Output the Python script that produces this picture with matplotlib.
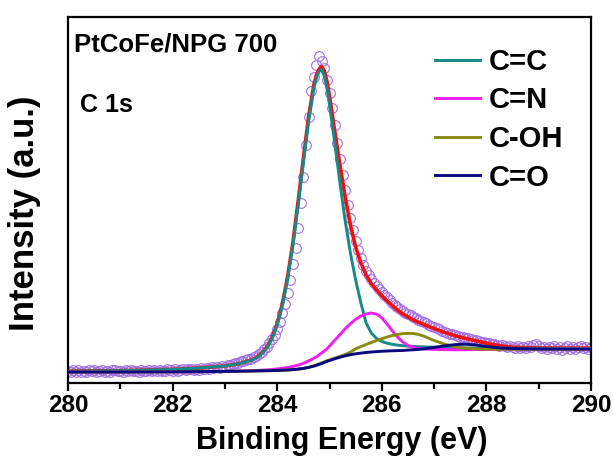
import numpy as np
import matplotlib
matplotlib.use('Agg')
import matplotlib.pyplot as plt
from matplotlib.ticker import MultipleLocator

plt.rcParams['font.family'] = ['Liberation Sans', 'DejaVu Sans']
plt.rcParams['font.weight'] = 'bold'

# measured points (open circles), 280.00 .. 290.00 eV every 0.05 eV
be_raw = np.linspace(280.0, 290.0, 201)
counts_raw = [
    12.5, 11.0, 12.8, 11.5, 13.0, 11.2, 12.2, 10.8, 12.6, 11.6,
    12.9, 11.3, 12.0, 13.1, 11.4, 12.4, 11.0, 12.7, 13.2, 11.8,
    12.3, 11.1, 12.9, 12.0, 13.3, 11.6, 12.5, 11.4, 13.0, 12.2,
    11.7, 13.4, 12.1, 12.8, 11.6, 13.5, 12.4, 11.9, 13.6, 12.6,
    12.2, 13.8, 12.5, 13.1, 14.0, 12.6, 13.7, 14.2, 13.0, 14.4,
    13.5, 14.8, 14.0, 15.1, 14.3, 15.6, 15.0, 16.2, 15.4, 16.8,
    16.5, 17.6, 17.9, 18.8, 19.6, 20.5, 21.6, 22.0, 23.2, 24.0,
    24.5, 25.8, 27.5, 28.6, 31.0, 33.8, 36.5, 40.0, 44.5, 48.5,
    54.0, 61.0, 70.0, 79.0, 90.0, 103.0, 119.0, 135.0, 155.0, 180.0,
    206.0, 238.0, 266.0, 292.0, 306.0, 318.0, 327.0, 322.0, 315.0, 303.0,
    290.0, 275.0, 258.0, 240.0, 224.0, 208.0, 193.0, 178.0, 165.0, 153.0,
    142.0, 133.0, 125.0, 118.0, 112.0, 108.0, 104.0, 100.0, 97.0, 94.0,
    91.0, 88.0, 86.0, 83.0, 80.0, 78.0, 76.0, 74.0, 72.0, 70.0,
    69.0, 68.0, 66.0, 65.0, 63.0, 62.0, 61.0, 60.0, 58.0, 57.0,
    56.0, 55.0, 54.0, 52.5, 51.5, 50.5, 49.5, 49.0, 48.0, 47.5,
    46.5, 46.0, 45.5, 45.0, 44.0, 43.5, 43.0, 42.0, 41.5, 41.0,
    40.5, 40.0, 39.0, 39.5, 38.0, 37.5, 38.5, 37.0, 36.5, 37.5,
    36.0, 35.5, 37.0, 35.0, 36.5, 35.5, 37.0, 36.0, 38.5, 39.5,
    37.0, 35.0, 36.5, 34.5, 36.0, 35.0, 37.0, 34.0, 36.0, 33.5,
    35.5, 37.0, 34.5, 36.0, 33.8, 35.8, 37.2, 34.6, 36.2, 34.2,
    36.0,
]

# fitted curves
be_fit = [280, 281, 282, 282.5, 283, 283.25, 283.5, 283.6, 283.7, 283.8,
          283.9, 284.0, 284.1, 284.2, 284.3, 284.4, 284.5, 284.6, 284.7, 284.75,
          284.8, 284.85, 284.9, 284.95, 285.0, 285.1, 285.2, 285.3, 285.4, 285.5,
          285.6, 285.7, 285.8, 285.9, 286.0, 286.1, 286.2, 286.3, 286.4, 286.5,
          286.6, 286.7, 286.8, 287.0, 287.2, 287.4, 287.6, 287.8, 288.0, 288.25,
          288.5, 289.0, 289.5, 290.0]

fit_cc = [11.8, 12.3, 13.6, 14.9, 17.0, 19.1, 22.6, 25.2, 28.9, 34.9,
          43.9, 57.6, 77.5, 103.9, 137.2, 177.3, 219.5, 261.1, 294.1, 304.8,
          311.6, 313.5, 307.0, 295.0, 278.0, 240.0, 200.0, 162.0, 130.0, 103.0,
          80.0, 60.0, 50.0, 44.5, 41.5, 39.8, 38.7, 37.9, 37.3, 36.9,
          36.6, 36.3, 36.1, 35.8, 35.5, 35.3, 35.1, 35.0, 34.9, 34.8,
          34.7, 34.6, 34.5, 34.5]

fit_cn = [11.0, 11.0, 11.2, 11.4, 11.6, 11.8, 12.3, 12.5, 12.8, 13.1,
          13.5, 14.1, 14.8, 15.5, 16.6, 17.9, 19.6, 22.1, 24.7, 26.2,
          28.1, 30.0, 32.0, 34.0, 37.0, 42.7, 48.3, 54.2, 59.3, 63.7,
          66.9, 69.0, 70.0, 68.9, 65.2, 59.0, 52.2, 45.9, 41.0, 37.6,
          35.7, 34.6, 34.1, 33.6, 33.4, 33.2, 33.3, 33.4, 33.5, 33.6,
          33.7, 33.8, 33.9, 34.0]

fit_coh = [11.0, 11.0, 11.2, 11.4, 11.6, 11.8, 12.0, 12.1, 12.2, 12.3,
           12.4, 12.6, 12.8, 13.0, 13.4, 13.9, 14.6, 15.6, 17.1, 18.0,
           19.1, 20.1, 21.2, 22.3, 23.0, 24.9, 26.6, 28.5, 30.8, 34.2,
           36.4, 38.5, 40.5, 42.4, 44.2, 46.0, 47.5, 48.6, 49.3, 49.6,
           49.5, 48.6, 46.9, 42.5, 38.9, 36.2, 34.7, 34.0, 33.8, 33.7,
           33.7, 33.8, 33.9, 34.0]

fit_co = [11.0, 11.0, 11.2, 11.4, 11.6, 11.8, 12.0, 12.1, 12.2, 12.3,
          12.4, 12.6, 12.8, 13.0, 13.4, 13.9, 14.6, 15.6, 16.9, 17.7,
          18.6, 19.5, 20.5, 21.5, 22.5, 24.2, 25.8, 27.2, 28.3, 29.2,
          29.9, 30.5, 31.0, 31.4, 31.7, 32.0, 32.2, 32.4, 32.5, 32.9,
          33.2, 33.6, 34.1, 35.6, 37.1, 38.4, 38.8, 38.0, 36.5, 35.0,
          34.5, 34.0, 33.9, 34.0]

fit_sum = [11.8, 12.3, 13.6, 14.9, 17.0, 19.1, 22.9, 25.6, 29.5, 35.7,
           45.0, 59.1, 79.5, 106.4, 140.4, 181.3, 224.5, 266.0, 298.0, 308.0,
           314.0, 316.5, 312.0, 302.0, 287.0, 252.0, 218.0, 186.0, 158.0, 136.0,
           120.0, 108.0, 99.5, 93.0, 87.5, 82.0, 77.5, 73.0, 69.2, 66.0,
           63.2, 60.8, 58.6, 54.5, 50.6, 47.3, 44.6, 42.2, 39.8, 37.4,
           35.8, 35.0, 34.8, 34.8]

labels = ['C=C', 'C=N', 'C-OH', 'C=O']
colors = ['#168a88', '#f01ef0', '#8a8a10', '#0a0a80']

fig = plt.figure(figsize=(6.14, 4.71), dpi=100)
ax = fig.add_axes([68/614, 88/471, 523/614, 366/471])

ax.plot(be_raw, counts_raw, 'o', ms=7, mfc='none', mec='#a06ee4', mew=0.8, zorder=1)
ax.plot(be_fit, fit_sum, color='#ee1111', lw=2.6, zorder=2)
for y, lab, c in zip([fit_cc, fit_cn, fit_coh, fit_co], labels, colors):
    ax.plot(be_fit, y, color=c, lw=2.1, label=lab, zorder=3)

ax.set_xlim(280, 290)
ax.set_ylim(0, 366)
ax.xaxis.set_major_locator(MultipleLocator(2))
ax.xaxis.set_minor_locator(MultipleLocator(1))
ax.set_yticks([])
ax.tick_params(axis='x', which='major', direction='out', length=6, width=1.6,
               labelsize=17.5, pad=2)
ax.tick_params(axis='x', which='minor', direction='out', length=4, width=1.6)
for s in ax.spines.values():
    s.set_linewidth(1.6)

ax.set_xlabel('Binding Energy (eV)', fontsize=22, fontweight='bold', va='center')
ax.xaxis.set_label_coords(0.524, -0.158)
ax.set_ylabel('Intensity (a.u.)', fontsize=25, fontweight='bold', va='center')
ax.yaxis.set_label_coords(-0.084, 0.465)

ax.text(74/614, 1 - 52/471, 'PtCoFe/NPG 700', transform=fig.transFigure,
        fontsize=18.5, fontweight='bold', va='baseline', ha='left')
ax.text(80/614, 1 - 112/471, 'C 1s', transform=fig.transFigure,
        fontsize=18, fontweight='bold', va='baseline', ha='left')

ax.legend(loc='upper left', bbox_to_anchor=(435/614, 1 - 48/471),
          bbox_transform=fig.transFigure, frameon=False, fontsize=21,
          handlelength=1.55, handletextpad=0.28, labelspacing=0.36, borderpad=0,
          borderaxespad=0)

fig.savefig('out.png', dpi=100)
